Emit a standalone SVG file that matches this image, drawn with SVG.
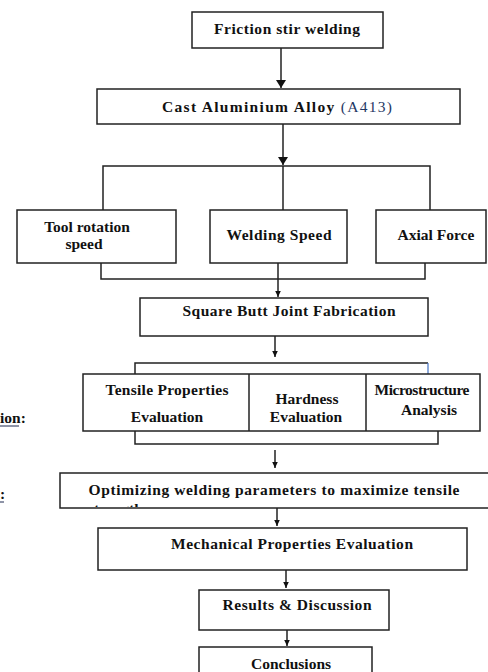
<svg xmlns="http://www.w3.org/2000/svg" width="488" height="672" viewBox="0 0 488 672">
<style>
.box{fill:#fff;stroke:#222;stroke-width:1.5}
.t{font-family:"Liberation Serif","DejaVu Serif","Times New Roman",serif;font-weight:bold;font-size:15.5px;fill:#111;text-anchor:middle}
.c{fill:none;stroke:#222;stroke-width:1.5}
</style>
<defs>
<marker id="big" markerUnits="userSpaceOnUse" orient="auto" refX="8" refY="0" markerWidth="10" markerHeight="12" overflow="visible"><path d="M0,-5 L8,0 L0,5 z" fill="#111"/></marker>
<marker id="sm" markerUnits="userSpaceOnUse" orient="auto" refX="6" refY="0" markerWidth="8" markerHeight="8" overflow="visible"><path d="M0,-2.8 L6,0 L0,2.8 z" fill="#111"/></marker>
<clipPath id="optclip"><rect x="60" y="473" width="428" height="34"/></clipPath>
</defs>
<rect width="488" height="672" fill="#fff"/>

<g id="connectors">
<line class="c" x1="281" y1="48" x2="281" y2="88" marker-end="url(#big)"/>
<line class="c" x1="283" y1="124" x2="283" y2="165" marker-end="url(#big)"/>
<polyline class="c" points="103,210 103,166 430,166 430,210"/>
<line class="c" x1="283" y1="166" x2="283" y2="210"/>
<polyline class="c" points="101,263 101,279 425,279 425,263"/>
<line class="c" x1="278" y1="263" x2="278" y2="297" marker-end="url(#sm)"/>
<line class="c" x1="275" y1="336" x2="275" y2="357" marker-end="url(#sm)"/>
<polyline class="c" points="135,374 135,363 428,363"/>
<line x1="428" y1="363" x2="428" y2="374" stroke="#4472c4" stroke-width="1.2"/>
<polyline class="c" points="135,431 135,444 438,444 438,431"/>
<line class="c" x1="275" y1="450" x2="275" y2="468" marker-end="url(#sm)"/>
<line class="c" x1="277" y1="508" x2="277" y2="526" marker-end="url(#sm)"/>
<line class="c" x1="286" y1="570" x2="286" y2="588" marker-end="url(#sm)"/>
<line class="c" x1="287" y1="630" x2="287" y2="646" marker-end="url(#sm)"/>
<line x1="434" y1="393" x2="434" y2="405" stroke="#222" stroke-width="1"/>
</g>

<g id="n-fsw">
<rect class="box" x="192" y="12" width="191" height="36"/>
<text class="t" x="287" y="34" textLength="146">Friction  stir welding</text>
</g>

<g id="n-cast">
<rect class="box" x="97" y="89" width="363" height="35"/>
<text class="t" x="277" y="112" textLength="230">Cast Aluminium Alloy <tspan font-weight="normal" fill="#1f3864">(A413)</tspan></text>
</g>

<g id="n-tool">
<rect class="box" x="17" y="210" width="159" height="53"/>
<text class="t" x="87" y="232">Tool rotation</text>
<text class="t" x="84" y="249">speed</text>
</g>

<g id="n-speed">
<rect class="box" x="210" y="210" width="137" height="53"/>
<text class="t" x="279" y="240" textLength="105">Welding Speed</text>
</g>

<g id="n-axial">
<rect class="box" x="376" y="210" width="110" height="53"/>
<text class="t" x="436" y="240">Axial Force</text>
</g>

<g id="n-square">
<rect class="box" x="140" y="298" width="288" height="38"/>
<text class="t" x="289" y="316" textLength="213">Square Butt Joint Fabrication</text>
</g>

<g id="n-eval">
<rect class="box" x="83" y="374" width="397" height="57"/>
<line x1="249" y1="374" x2="249" y2="431" stroke="#222" stroke-width="1.5"/>
<line x1="366" y1="374" x2="366" y2="431" stroke="#222" stroke-width="1.5"/>
<text class="t" x="167" y="395" textLength="123">Tensile Properties</text>
<text class="t" x="167" y="422">Evaluation</text>
<text class="t" x="307" y="404">Hardness</text>
<text class="t" x="306" y="422">Evaluation</text>
<text class="t" x="422" y="395" font-size="13" textLength="95">Microstructure</text>
<text class="t" x="429" y="415" fill="#1f2a50">Analysis</text>
</g>

<g id="n-opt">
<rect class="box" x="60" y="473" width="440" height="35"/>
<text class="t" x="274" y="495" textLength="371">Optimizing welding parameters to maximize tensile</text>
<text class="t" x="88" y="514" style="text-anchor:start" clip-path="url(#optclip)">strength</text>
</g>

<g id="n-mech">
<rect class="box" x="98" y="528" width="369" height="42"/>
<text class="t" x="292" y="549" textLength="242">Mechanical Properties Evaluation</text>
</g>

<g id="n-results">
<rect class="box" x="199" y="590" width="190" height="40"/>
<text class="t" x="297" y="610" textLength="149">Results &amp; Discussion</text>
</g>

<g id="n-concl">
<rect class="box" x="199" y="647" width="173" height="40"/>
<text class="t" x="291" y="669">Conclusions</text>
</g>

<g id="fragments">
<text class="t" x="0" y="423" style="text-anchor:start" fill="#1f2a50">ion:</text>
<line x1="0" y1="426" x2="19" y2="426" stroke="#1f2a50" stroke-width="1"/>
<text class="t" x="0" y="499" style="text-anchor:start" fill="#1f2a50">:</text>
<line x1="0" y1="502" x2="4" y2="502" stroke="#1f2a50" stroke-width="1"/>
</g>
</svg>
